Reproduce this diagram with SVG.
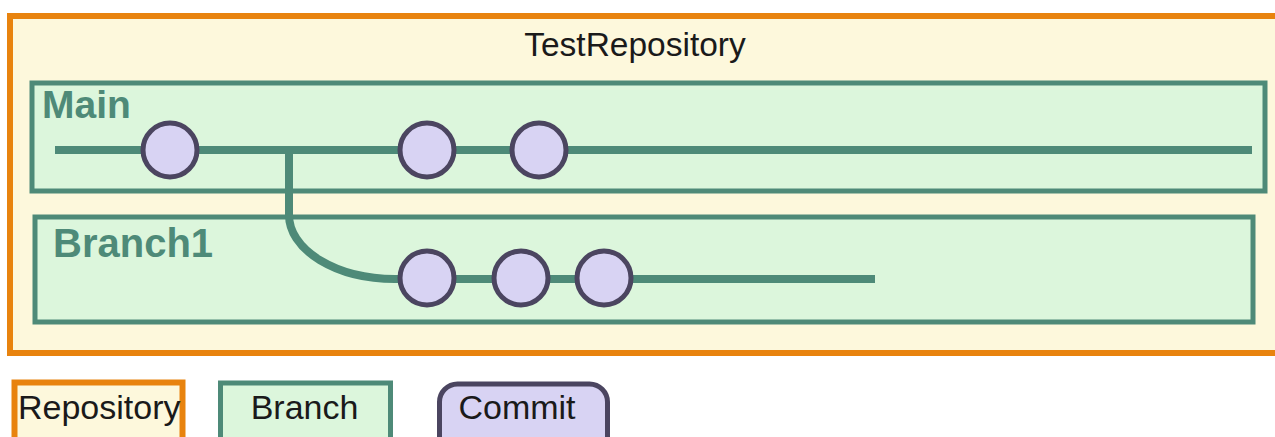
<svg xmlns="http://www.w3.org/2000/svg" width="1275" height="437" viewBox="0 0 1275 437">
<style>
.repo{fill:#fdf8dc;stroke:#e8830e;stroke-width:6}
.branch{fill:#dcf6dc;stroke:#4e8a78;stroke-width:5}
.commit{fill:#d8d3f3;stroke:#4b4560;stroke-width:5}
.line{fill:none;stroke:#4e8a78;stroke-width:8}
.lbl{font-family:"Liberation Sans",Arial,sans-serif;font-weight:bold;font-size:39px;fill:#4e8a78}
.txt{font-family:"Liberation Sans",Arial,sans-serif;font-size:34px;fill:#1a1a1a}
</style>
<rect width="1275" height="437" fill="#ffffff"/>
<g id="repository">
<rect class="repo" x="10" y="16" width="1280" height="337"/>
<text class="txt" x="635" y="56" text-anchor="middle" style="font-size:33.5px">TestRepository</text>
</g>
<g id="main">
<rect class="branch" x="32" y="83" width="1233" height="108"/>
<text class="lbl" x="42" y="118">Main</text>
</g>
<g id="branch1">
<rect class="branch" x="35" y="217" width="1218" height="105"/>
<text class="lbl" x="53" y="257" style="font-size:40px">Branch1</text>
</g>
<g id="connectors">
<path class="line" d="M55,150 H1252"/>
<path class="line" d="M289,150 V215 A106,64 0 0 0 395,279 H875"/>
</g>
<g id="commit-m1"><circle class="commit" cx="170" cy="150" r="27"/></g>
<g id="commit-m2"><circle class="commit" cx="427" cy="150" r="27"/></g>
<g id="commit-m3"><circle class="commit" cx="539" cy="150" r="27"/></g>
<g id="commit-b1"><circle class="commit" cx="427" cy="278" r="27"/></g>
<g id="commit-b2"><circle class="commit" cx="521" cy="278" r="27"/></g>
<g id="commit-b3"><circle class="commit" cx="604" cy="278" r="27"/></g>
<g id="legend-repository">
<rect class="repo" x="14.5" y="382.5" width="168" height="70"/>
<text class="txt" x="18" y="419">Repository</text>
</g>
<g id="legend-branch">
<rect class="branch" x="220.5" y="383" width="170" height="70"/>
<text class="txt" x="304.5" y="419" text-anchor="middle">Branch</text>
</g>
<g id="legend-commit">
<rect class="commit" x="439.5" y="384" width="168" height="70" rx="18"/>
<text class="txt" x="517" y="419" text-anchor="middle">Commit</text>
</g>
</svg>
